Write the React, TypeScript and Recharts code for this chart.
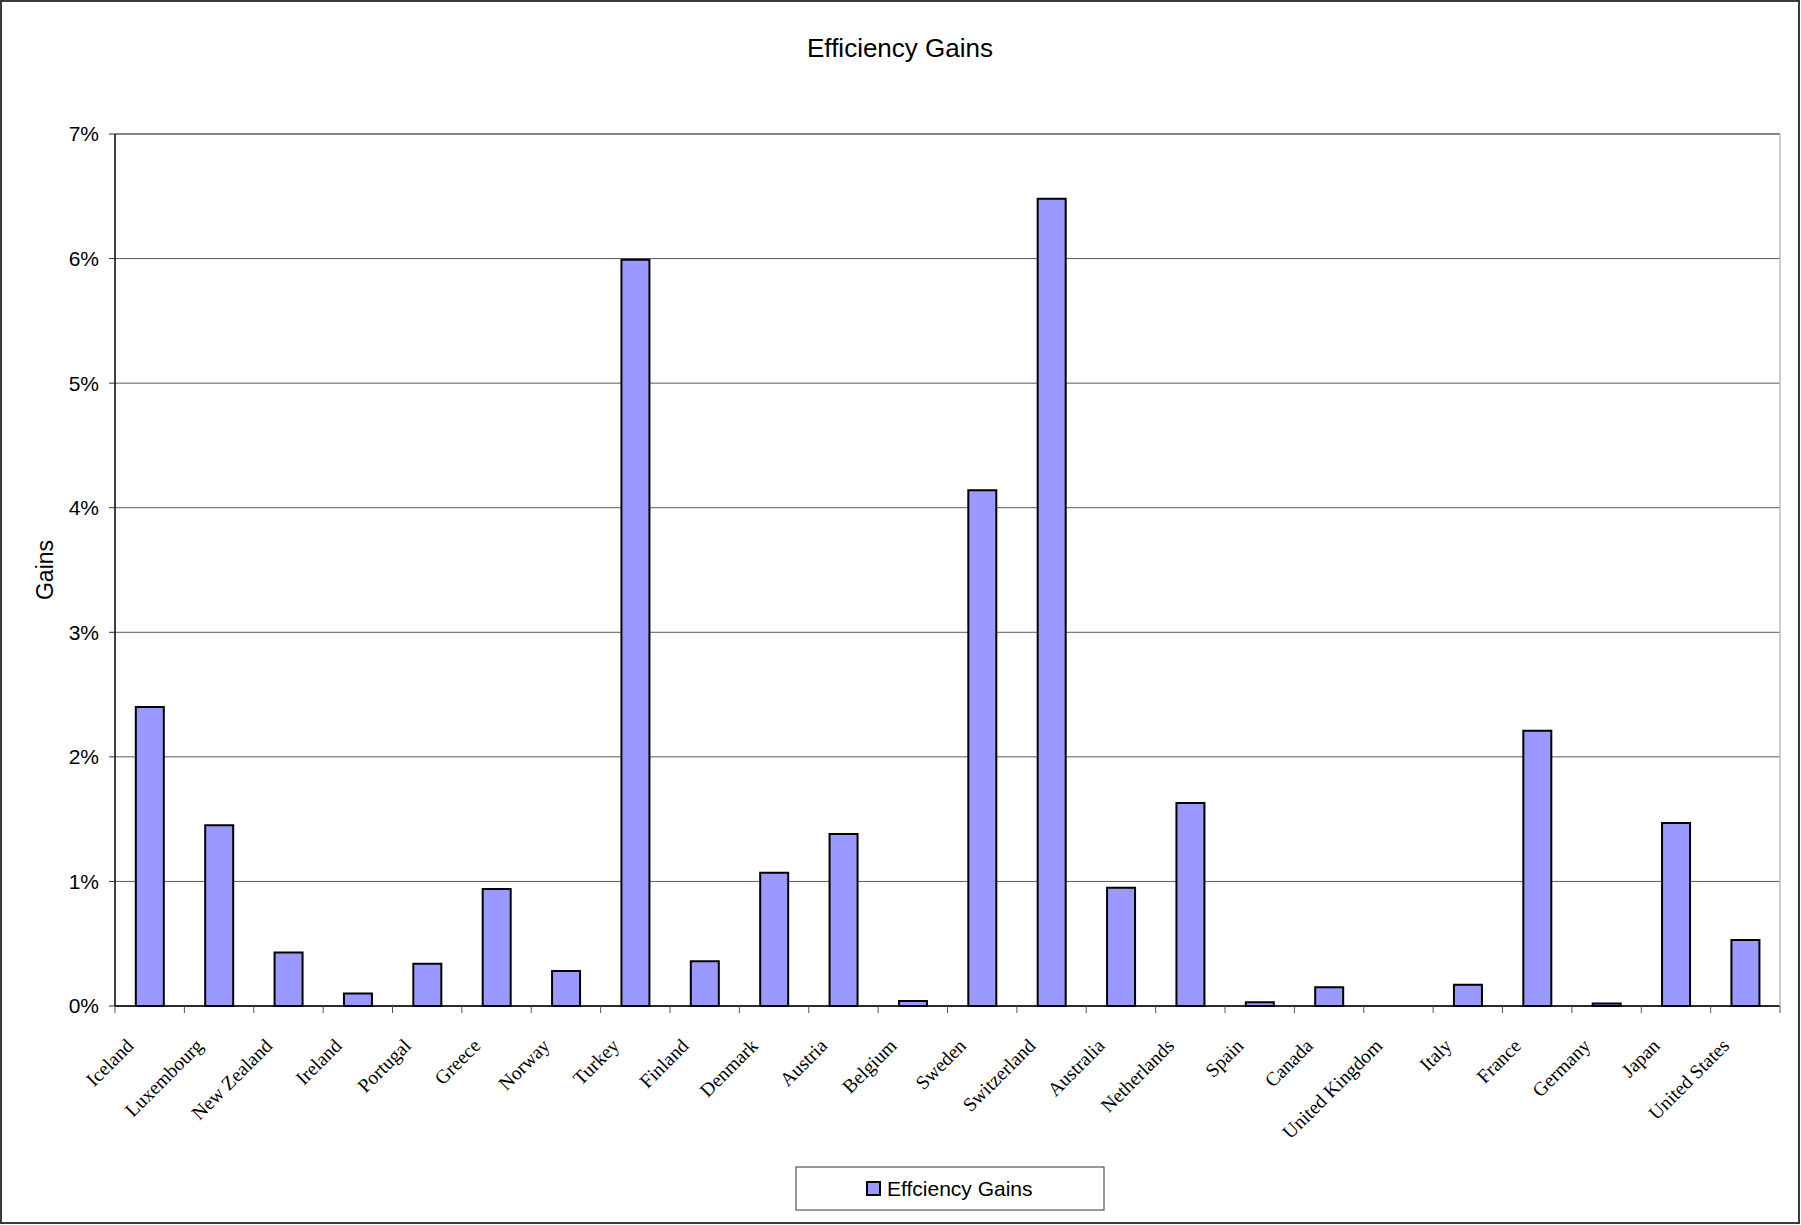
import React from 'react';
import { BarChart, Bar, XAxis, YAxis, CartesianGrid, ReferenceLine } from 'recharts';

const categories = [
  'Iceland', 'Luxembourg', 'New Zealand', 'Ireland', 'Portugal', 'Greece', 'Norway', 'Turkey',
  'Finland', 'Denmark', 'Austria', 'Belgium', 'Sweden', 'Switzerland', 'Australia', 'Netherlands',
  'Spain', 'Canada', 'United Kingdom', 'Italy', 'France', 'Germany', 'Japan', 'United States',
];
const gains = [
  0.0240, 0.0145, 0.0043, 0.0010, 0.0034, 0.0094, 0.0028, 0.0599,
  0.0036, 0.0107, 0.0138, 0.0004, 0.0414, 0.0648, 0.0095, 0.0163,
  0.0003, 0.0015, 0, 0.0017, 0.0221, 0.0002, 0.0147, 0.0053,
];
const yTicks = [0, 0.01, 0.02, 0.03, 0.04, 0.05, 0.06, 0.07];
const titleText = 'Efficiency Gains';
const seriesName = 'Effciency Gains';
const yLabel = 'Gains';

const data = categories.map((c, i) => ({ name: c, value: gains[i] }));

const SANS = '"Liberation Sans", Arial, sans-serif';
const SERIF = '"Liberation Serif", "Times New Roman", serif';
const BAR_FILL = '#9999FF';

const XTick = (props: any) => {
  const { x, y, payload, index } = props;
  const off = payload && payload.offset != null ? payload.offset : 34.7;
  const last = index === categories.length - 1;
  return (
    <g>
      <line x1={x - off} x2={x - off} y1={y} y2={y + 7} stroke="#555" strokeWidth={1} />
      {last && <line x1={x + off} x2={x + off} y1={y} y2={y + 7} stroke="#555" strokeWidth={1} />}
      <text
        x={x - 15}
        y={y + 41}
        transform={`rotate(-45, ${x - 15}, ${y + 41})`}
        textAnchor="end"
        fontFamily={SERIF}
        fontSize={19.5}
        fill="#000"
      >
        {payload.value}
      </text>
    </g>
  );
};

export default function App() {
  return (
    <div style={{ position: 'absolute', left: 0, top: 0, width: 1800, height: 1224, background: '#fff' }}>
      <BarChart
        width={1800}
        height={1224}
        data={data}
        margin={{ top: 134, right: 20, left: 0, bottom: 68 }}
        barCategoryGap="30%"
      >
        <CartesianGrid horizontal={true} vertical={false} stroke="#5a5a5a" strokeWidth={1} />
        <XAxis
          dataKey="name"
          type="category"
          interval={0}
          height={150}
          tickSize={0}
          tickMargin={0}
          tickLine={false}
          axisLine={{ stroke: '#000', strokeWidth: 1.5 }}
          tick={<XTick />}
        />
        <YAxis
          type="number"
          domain={[0, 0.07]}
          ticks={yTicks}
          interval={0}
          width={115}
          tickSize={6}
          tickMargin={10}
          axisLine={{ stroke: '#000', strokeWidth: 1.5 }}
          tickLine={{ stroke: '#333' }}
          tick={{ fontFamily: SANS, fontSize: 21, fill: '#000' }}
          tickFormatter={(v: number) => `${Math.round(v * 100)}%`}
          label={{
            content: (p: any) => {
              const vb = p.viewBox || { x: 0, y: 134, width: 115, height: 872 };
              const cx = 53;
              const cy = vb.y + vb.height / 2;
              return (
                <text x={cx} y={cy} transform={`rotate(-90, ${cx}, ${cy})`} textAnchor="middle" fontFamily={SANS} fontSize={23} fill="#000">
                  {yLabel}
                </text>
              );
            },
          }}
        />
        <ReferenceLine y={0.07} stroke="#5a5a5a" strokeWidth={1} />
        <Bar dataKey="value" name={seriesName} fill={BAR_FILL} stroke="#000" strokeWidth={2} isAnimationActive={false} />
      </BarChart>
      <svg width={1800} height={1224} style={{ position: 'absolute', left: 0, top: 0, pointerEvents: 'none' }}>
        <line x1={1780} x2={1780} y1={134} y2={1006} stroke="#bdbdbd" strokeWidth={1.5} />
        <text x={900} y={57} textAnchor="middle" fontFamily={SANS} fontSize={26} fill="#000">{titleText}</text>
        <rect x={796} y={1167} width={308} height={43} fill="#fff" stroke="#333" strokeWidth={1} />
        <rect x={867} y={1182} width={13} height={13} fill={BAR_FILL} stroke="#000" strokeWidth={2} />
        <text x={887} y={1196} fontFamily={SANS} fontSize={21} fill="#000">{seriesName}</text>
      </svg>
      <div style={{ position: 'absolute', left: 0, top: 0, width: 1800, height: 1224, boxSizing: 'border-box', border: '2px solid #3a3a3a', pointerEvents: 'none' }} />
    </div>
  );
}
